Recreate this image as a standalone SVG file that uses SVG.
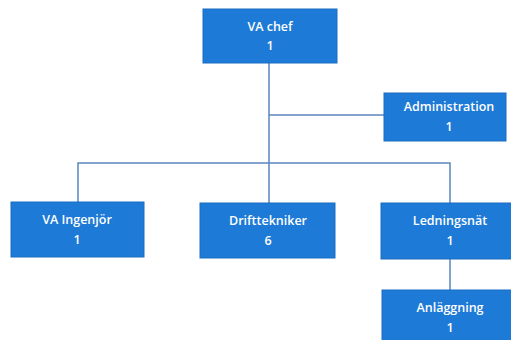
<svg xmlns="http://www.w3.org/2000/svg" width="511" height="340" viewBox="0 0 511 340">
<style>
.box{fill:#1d7ad6;stroke:#1a6cc0;stroke-width:1}
.t{font-family:"Open Sans","Liberation Sans",sans-serif;font-size:12.5px;font-weight:600;fill:#ffffff;text-anchor:middle}
.c{stroke:#5b86bf;stroke-width:1.5;fill:none}
</style>
<rect width="511" height="340" fill="#ffffff"/>
<g id="connectors">
<path class="c" d="M269,63 V163"/>
<path class="c" d="M269,115 H384"/>
<path class="c" d="M78,202 V163 H450 V203"/>
<path class="c" d="M269,163 V203"/>
<path class="c" d="M450,259 V290"/>
</g>
<g id="va-chef">
<rect class="box" x="203" y="9" width="134" height="54"/>
<text class="t" x="270" y="31">VA chef</text>
<text class="t" x="270" y="50">1</text>
</g>
<g id="administration">
<rect class="box" x="384" y="93" width="122" height="48"/>
<text class="t" x="449" y="111">Administration</text>
<text class="t" x="449" y="131">1</text>
</g>
<g id="va-ingenjor">
<rect class="box" x="11" y="202" width="133" height="55"/>
<text class="t" x="77" y="224">VA Ingenjör</text>
<text class="t" x="77" y="244">1</text>
</g>
<g id="drifttekniker">
<rect class="box" x="200" y="203" width="135" height="55"/>
<text class="t" x="268" y="225">Drifttekniker</text>
<text class="t" x="268" y="245">6</text>
</g>
<g id="ledningsnat">
<rect class="box" x="381" y="203" width="132" height="56"/>
<text class="t" x="450" y="225">Ledningsnät</text>
<text class="t" x="450" y="245">1</text>
</g>
<g id="anlaggning">
<rect class="box" x="382" y="290" width="131" height="52"/>
<text class="t" x="450" y="312">Anläggning</text>
<text class="t" x="450" y="332">1</text>
</g>
</svg>
